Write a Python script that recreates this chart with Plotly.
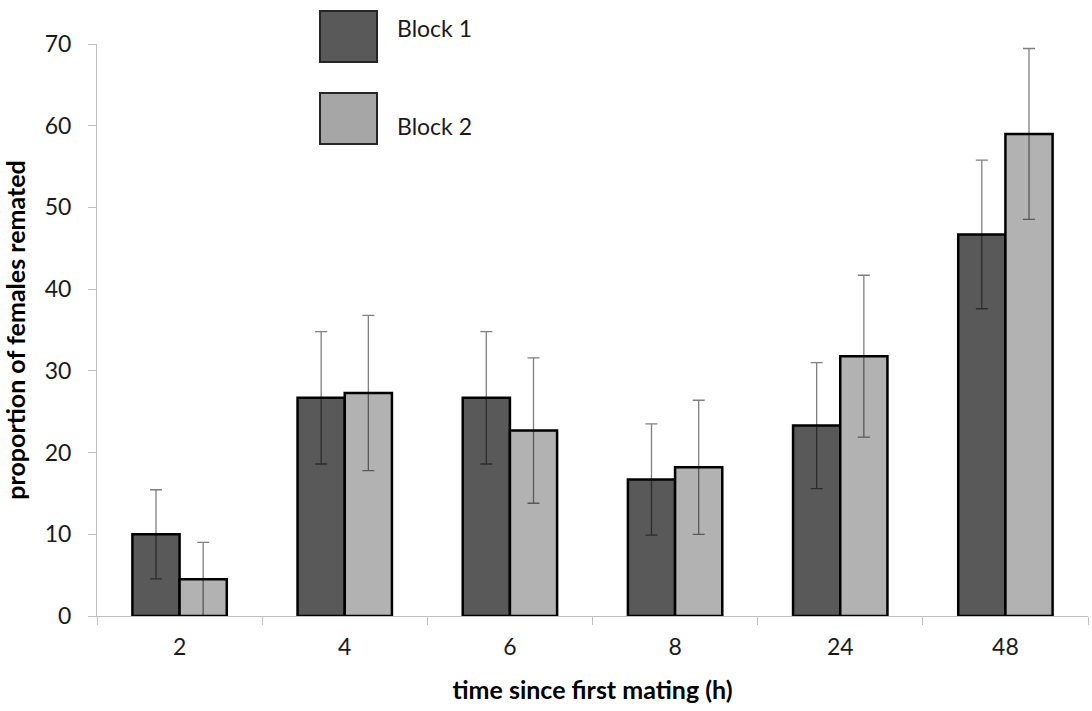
import plotly.graph_objects as go

categories = ["2", "4", "6", "8", "24", "48"]
block1 = [10.0, 26.7, 26.7, 16.7, 23.3, 46.7]
block1_err = [5.45, 8.1, 8.1, 6.8, 7.7, 9.1]
block2 = [4.5, 27.3, 22.7, 18.2, 31.8, 59.0]
block2_err = [4.5, 9.5, 8.9, 8.2, 9.9, 10.45]
series_names = ["Block 1", "Block 2"]
y_ticks = [0, 10, 20, 30, 40, 50, 60, 70]

FONT = "Lato"
C1 = "#595959"
C2 = "#b2b2b2"
ERR = "rgba(0,0,0,0.5)"

fig = go.Figure()
for name, vals, errs, col in [(series_names[0], block1, block1_err, C1),
                              (series_names[1], block2, block2_err, C2)]:
    fig.add_trace(go.Bar(
        x=categories, y=vals, name=name,
        marker=dict(color=col, line=dict(color="#000000", width=2.5)),
        error_y=dict(type="data", array=errs, visible=True,
                     color=ERR, thickness=1.3, width=6),
        showlegend=False,
    ))

W, H = 1092, 711
ml, mr, mt, mb = 97, 4, 44, 95
pw, ph = W - ml - mr, H - mt - mb

def px(x):
    return (x - ml) / pw

def py(y):
    return (H - mb - y) / ph

shapes = []
annotations = []
legend_items = [(series_names[0], C1, 11, 62, 28), (series_names[1], "#a6a6a6", 93, 144, 126)]
for name, col, y0, y1, yt in legend_items:
    shapes.append(dict(type="rect", xref="paper", yref="paper",
                       x0=px(320), x1=px(377), y0=py(y1), y1=py(y0),
                       fillcolor=col, line=dict(color="#262626", width=2)))
    annotations.append(dict(text=name, xref="paper", yref="paper",
                            x=px(395), y=py(yt), xanchor="left", yanchor="middle",
                            showarrow=False, font=dict(family=FONT, size=23, color="#1a1a1a")))

fig.update_layout(
    width=W, height=H,
    margin=dict(l=ml, r=mr, t=mt, b=mb),
    paper_bgcolor="white", plot_bgcolor="white",
    barmode="group", bargap=0.4286, bargroupgap=0,
    font=dict(family=FONT, size=23, color="#1a1a1a"),
    shapes=shapes, annotations=annotations,
    xaxis=dict(
        type="category", showline=True, linecolor="#c0c0c0", linewidth=1,
        ticks="outside", ticklen=8, tickcolor="#c0c0c0", tickson="boundaries",
        showgrid=False, zeroline=False, ticklabelstandoff=10,
        tickfont=dict(family=FONT, size=23, color="#1a1a1a"),
        title=dict(text="time since first mating (h)",
                   font=dict(family=FONT, size=25, color="#000000", weight="bold"),
                   standoff=22),
    ),
    yaxis=dict(
        range=[0, 70], tickvals=y_ticks, showline=True, linecolor="#c0c0c0", linewidth=1,
        ticks="outside", ticklen=8, tickcolor="#c0c0c0",
        showgrid=False, zeroline=False, ticklabelstandoff=12,
        tickfont=dict(family=FONT, size=23, color="#1a1a1a"),
        title=dict(text="proportion of females remated",
                   font=dict(family=FONT, size=25, color="#000000", weight="bold"),
                   standoff=14),
    ),
)

fig.write_html("out.html", config={"displayModeBar": False},
               post_script="document.body.style.margin='0';document.body.style.overflow='hidden';")
